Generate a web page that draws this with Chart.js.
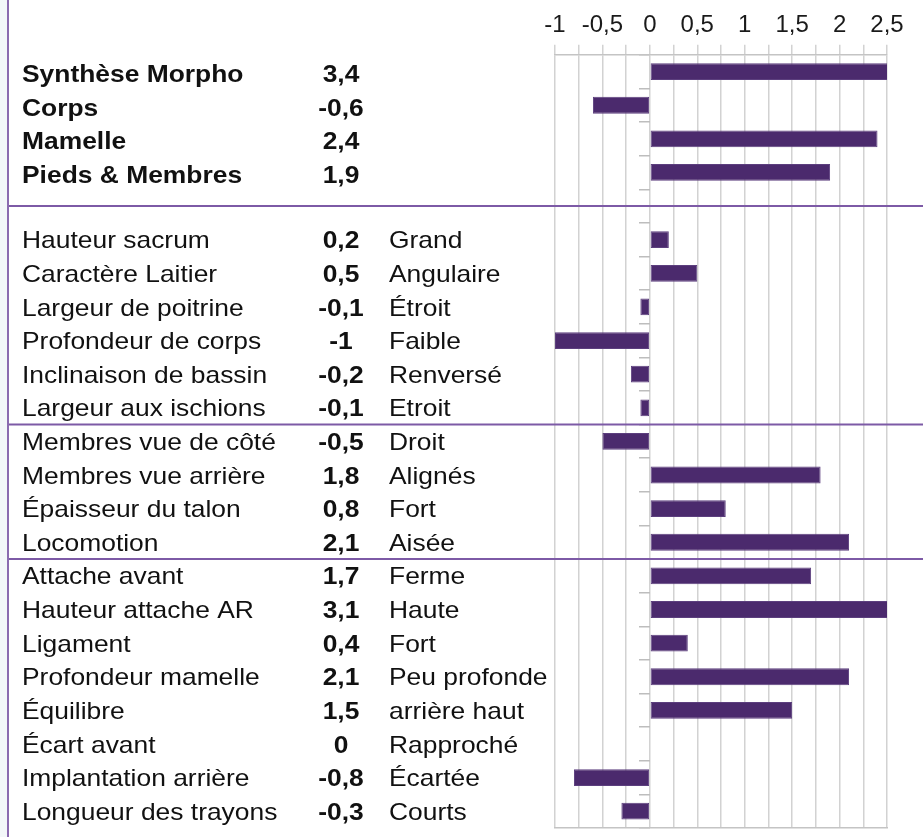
<!DOCTYPE html>
<html>
<head>
<meta charset="utf-8">
<script src="https://cdn.jsdelivr.net/npm/chart.js@4.4.1/dist/chart.umd.min.js"></script>
<style>
  body { margin: 0; background: #fff; }
  #wrap { width: 923px; height: 837px; }
</style>
</head>
<body>
<div id="wrap"><canvas id="chart" width="923" height="837"></canvas></div>
<script>
// rows of the table, the empty one is the gap under the summary block
let labels = ['Synthèse Morpho', 'Corps', 'Mamelle', 'Pieds & Membres', '',
  'Hauteur sacrum', 'Caractère Laitier', 'Largeur de poitrine', 'Profondeur de corps', 'Inclinaison de bassin', 'Largeur aux ischions',
  'Membres vue de côté', 'Membres vue arrière', 'Épaisseur du talon', 'Locomotion',
  'Attache avant', 'Hauteur attache AR', 'Ligament', 'Profondeur mamelle', 'Équilibre', 'Écart avant', 'Implantation arrière', 'Longueur des trayons'];
let values = [3.4, -0.6, 2.4, 1.9, null,
  0.2, 0.5, -0.1, -1, -0.2, -0.1,
  -0.5, 1.8, 0.8, 2.1,
  1.7, 3.1, 0.4, 2.1, 1.5, 0, -0.8, -0.3];
let descriptions = ['', '', '', '', '',
  'Grand', 'Angulaire', 'Étroit', 'Faible', 'Renversé', 'Etroit',
  'Droit', 'Alignés', 'Fort', 'Aisée',
  'Ferme', 'Haute', 'Fort', 'Peu profonde', 'arrière haut', 'Rapproché', 'Écartée', 'Courts'];
let boldRows = 4;
let xMin = -1;
let xMax = 2.5;

function frNum(v) {
    return String(v).replace('.', ',');
}

let tablePlugin = {
    id: 'tableText',
    beforeDraw(chart) {
        let ctx = chart.ctx;
        ctx.save();
        ctx.fillStyle = '#f3f7f9';
        ctx.fillRect(0, 0, 7, chart.height);
        ctx.restore();
    },
    afterDraw(chart) {
        let ctx = chart.ctx;
        let y = chart.scales.y;
        ctx.save();

        // separators: middle of the gap row, then between the sections
        let seps = [y.getPixelForValue(4),
            (y.getPixelForValue(10) + y.getPixelForValue(11)) / 2,
            (y.getPixelForValue(14) + y.getPixelForValue(15)) / 2];
        ctx.strokeStyle = '#7d5aa6';
        ctx.lineWidth = 2;
        seps.forEach(function (py) {
            ctx.beginPath();
            ctx.moveTo(8, py);
            ctx.lineTo(chart.width, py);
            ctx.stroke();
        });
        ctx.strokeStyle = '#8b6bb0';
        ctx.beginPath();
        ctx.moveTo(8, 0);
        ctx.lineTo(8, chart.height);
        ctx.stroke();

        ctx.fillStyle = '#111';
        ctx.textBaseline = 'middle';
        let stretch = 1.1;
        function txt(s, x, py, align, bold) {
            ctx.save();
            ctx.font = (bold ? 'bold ' : '') + '24px "Liberation Sans", Arial, sans-serif';
            ctx.textAlign = align;
            ctx.translate(x, py);
            ctx.scale(stretch, 1);
            ctx.fillText(s, 0, 0);
            ctx.restore();
        }
        for (let i = 0; i < labels.length; i++) {
            if (labels[i] === '') continue;
            let py = y.getPixelForValue(i) + (i < boldRows ? 4 : 2);
            txt(labels[i], 22, py, 'left', i < boldRows);
            txt(frNum(values[i]), 341, py, 'center', true);
            if (descriptions[i]) txt(descriptions[i], 389, py, 'left', false);
        }
        ctx.restore();
    }
};

let chart = new Chart(document.getElementById('chart'), {
    type: 'bar',
    data: {
        labels: labels,
        datasets: [{
            data: values,
            backgroundColor: '#4b2a6d',
            borderColor: '#5c3f7e',
            borderWidth: 1,
            borderSkipped: false,
            barPercentage: 0.5,
            categoryPercentage: 1
        }]
    },
    options: {
        indexAxis: 'y',
        responsive: false,
        animation: false,
        layout: { padding: { left: 555, right: 36, top: 6, bottom: 9 } },
        plugins: { legend: { display: false }, tooltip: { enabled: false } },
        scales: {
            x: {
                position: 'top',
                min: xMin,
                max: xMax,
                ticks: {
                    stepSize: 0.25,
                    autoSkip: false,
                    maxRotation: 0,
                    padding: 5,
                    color: '#1a1a1a',
                    font: { family: '"Liberation Sans", Arial', size: 24 },
                    callback: function (v) {
                        return Math.round(v * 100) % 50 === 0 ? frNum(v) : '';
                    }
                },
                grid: { color: '#d2d2d2', lineWidth: 1.5, tickLength: 10 },
                border: { color: '#c4c4c4', width: 1.5 }
            },
            x2: {
                position: 'bottom',
                display: true,
                ticks: { display: false },
                grid: { display: false, drawTicks: false },
                border: { color: '#c4c4c4', width: 1.5 }
            },
            y: {
                type: 'category',
                position: { x: 0 },
                offset: true,
                ticks: { display: false },
                grid: { drawOnChartArea: false, offset: true, tickLength: 11, color: '#bdbdbd', lineWidth: 1.5 },
                border: { display: false }
            }
        }
    },
    plugins: [tablePlugin]
});
</script>
</body>
</html>
